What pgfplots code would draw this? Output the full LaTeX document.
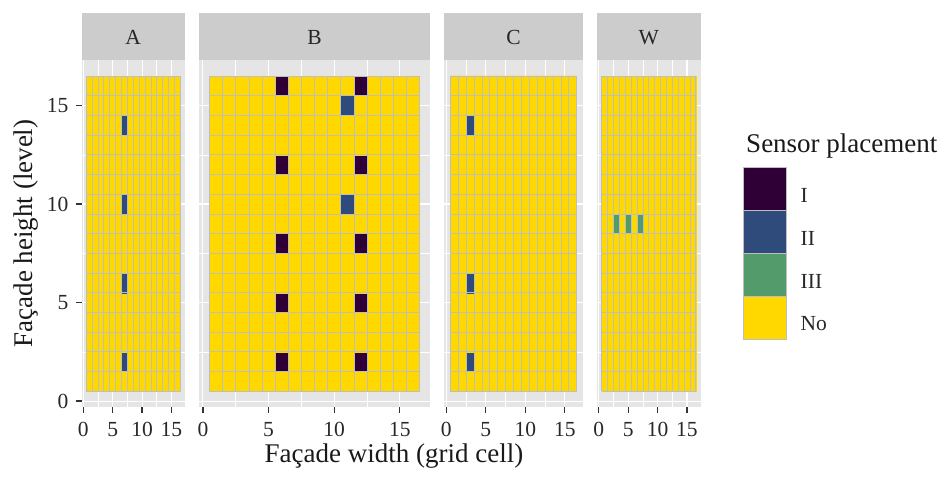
\documentclass[border=0pt]{standalone}
\usepackage{fontspec}
\setmainfont{Liberation Serif}
\usepackage{pgfplots}
\usepackage{pgfplotstable}
\pgfplotsset{compat=1.18}

\definecolor{panelbg}{RGB}{229,229,229}
\definecolor{stripbg}{RGB}{204,204,204}
\definecolor{tileedge}{RGB}{190,190,190}
\definecolor{catI}{RGB}{46,0,54}
\definecolor{catII}{RGB}{47,75,124}
\definecolor{catIII}{RGB}{83,155,107}
\definecolor{catNo}{RGB}{255,216,0}
\definecolor{tickgray}{RGB}{51,51,51}
\definecolor{labgray}{RGB}{40,40,40}

\newcommand\smallfont{\fontsize{21.5}{24}\selectfont}
\newcommand\bigfont{\fontsize{27}{30}\selectfont}

% Sensor placement per grid cell: 0 = I, 1 = II, 2 = III, 3 = No.
% One line per level, level 1 (bottom) first; 16 cells per level, cell 1 first.
\pgfplotstableread[row sep=\\]{
c\\
3\\3\\3\\3\\3\\3\\3\\3\\3\\3\\3\\3\\3\\3\\3\\3\\
3\\3\\3\\3\\3\\3\\1\\3\\3\\3\\3\\3\\3\\3\\3\\3\\
3\\3\\3\\3\\3\\3\\3\\3\\3\\3\\3\\3\\3\\3\\3\\3\\
3\\3\\3\\3\\3\\3\\3\\3\\3\\3\\3\\3\\3\\3\\3\\3\\
3\\3\\3\\3\\3\\3\\3\\3\\3\\3\\3\\3\\3\\3\\3\\3\\
3\\3\\3\\3\\3\\3\\1\\3\\3\\3\\3\\3\\3\\3\\3\\3\\
3\\3\\3\\3\\3\\3\\3\\3\\3\\3\\3\\3\\3\\3\\3\\3\\
3\\3\\3\\3\\3\\3\\3\\3\\3\\3\\3\\3\\3\\3\\3\\3\\
3\\3\\3\\3\\3\\3\\3\\3\\3\\3\\3\\3\\3\\3\\3\\3\\
3\\3\\3\\3\\3\\3\\1\\3\\3\\3\\3\\3\\3\\3\\3\\3\\
3\\3\\3\\3\\3\\3\\3\\3\\3\\3\\3\\3\\3\\3\\3\\3\\
3\\3\\3\\3\\3\\3\\3\\3\\3\\3\\3\\3\\3\\3\\3\\3\\
3\\3\\3\\3\\3\\3\\3\\3\\3\\3\\3\\3\\3\\3\\3\\3\\
3\\3\\3\\3\\3\\3\\1\\3\\3\\3\\3\\3\\3\\3\\3\\3\\
3\\3\\3\\3\\3\\3\\3\\3\\3\\3\\3\\3\\3\\3\\3\\3\\
3\\3\\3\\3\\3\\3\\3\\3\\3\\3\\3\\3\\3\\3\\3\\3\\
}\facadeA

\pgfplotstableread[row sep=\\]{
c\\
3\\3\\3\\3\\3\\3\\3\\3\\3\\3\\3\\3\\3\\3\\3\\3\\
3\\3\\3\\3\\3\\0\\3\\3\\3\\3\\3\\0\\3\\3\\3\\3\\
3\\3\\3\\3\\3\\3\\3\\3\\3\\3\\3\\3\\3\\3\\3\\3\\
3\\3\\3\\3\\3\\3\\3\\3\\3\\3\\3\\3\\3\\3\\3\\3\\
3\\3\\3\\3\\3\\0\\3\\3\\3\\3\\3\\0\\3\\3\\3\\3\\
3\\3\\3\\3\\3\\3\\3\\3\\3\\3\\3\\3\\3\\3\\3\\3\\
3\\3\\3\\3\\3\\3\\3\\3\\3\\3\\3\\3\\3\\3\\3\\3\\
3\\3\\3\\3\\3\\0\\3\\3\\3\\3\\3\\0\\3\\3\\3\\3\\
3\\3\\3\\3\\3\\3\\3\\3\\3\\3\\3\\3\\3\\3\\3\\3\\
3\\3\\3\\3\\3\\3\\3\\3\\3\\3\\1\\3\\3\\3\\3\\3\\
3\\3\\3\\3\\3\\3\\3\\3\\3\\3\\3\\3\\3\\3\\3\\3\\
3\\3\\3\\3\\3\\0\\3\\3\\3\\3\\3\\0\\3\\3\\3\\3\\
3\\3\\3\\3\\3\\3\\3\\3\\3\\3\\3\\3\\3\\3\\3\\3\\
3\\3\\3\\3\\3\\3\\3\\3\\3\\3\\3\\3\\3\\3\\3\\3\\
3\\3\\3\\3\\3\\3\\3\\3\\3\\3\\1\\3\\3\\3\\3\\3\\
3\\3\\3\\3\\3\\0\\3\\3\\3\\3\\3\\0\\3\\3\\3\\3\\
}\facadeB

\pgfplotstableread[row sep=\\]{
c\\
3\\3\\3\\3\\3\\3\\3\\3\\3\\3\\3\\3\\3\\3\\3\\3\\
3\\3\\1\\3\\3\\3\\3\\3\\3\\3\\3\\3\\3\\3\\3\\3\\
3\\3\\3\\3\\3\\3\\3\\3\\3\\3\\3\\3\\3\\3\\3\\3\\
3\\3\\3\\3\\3\\3\\3\\3\\3\\3\\3\\3\\3\\3\\3\\3\\
3\\3\\3\\3\\3\\3\\3\\3\\3\\3\\3\\3\\3\\3\\3\\3\\
3\\3\\1\\3\\3\\3\\3\\3\\3\\3\\3\\3\\3\\3\\3\\3\\
3\\3\\3\\3\\3\\3\\3\\3\\3\\3\\3\\3\\3\\3\\3\\3\\
3\\3\\3\\3\\3\\3\\3\\3\\3\\3\\3\\3\\3\\3\\3\\3\\
3\\3\\3\\3\\3\\3\\3\\3\\3\\3\\3\\3\\3\\3\\3\\3\\
3\\3\\3\\3\\3\\3\\3\\3\\3\\3\\3\\3\\3\\3\\3\\3\\
3\\3\\3\\3\\3\\3\\3\\3\\3\\3\\3\\3\\3\\3\\3\\3\\
3\\3\\3\\3\\3\\3\\3\\3\\3\\3\\3\\3\\3\\3\\3\\3\\
3\\3\\3\\3\\3\\3\\3\\3\\3\\3\\3\\3\\3\\3\\3\\3\\
3\\3\\1\\3\\3\\3\\3\\3\\3\\3\\3\\3\\3\\3\\3\\3\\
3\\3\\3\\3\\3\\3\\3\\3\\3\\3\\3\\3\\3\\3\\3\\3\\
3\\3\\3\\3\\3\\3\\3\\3\\3\\3\\3\\3\\3\\3\\3\\3\\
}\facadeC

\pgfplotstableread[row sep=\\]{
c\\
3\\3\\3\\3\\3\\3\\3\\3\\3\\3\\3\\3\\3\\3\\3\\3\\
3\\3\\3\\3\\3\\3\\3\\3\\3\\3\\3\\3\\3\\3\\3\\3\\
3\\3\\3\\3\\3\\3\\3\\3\\3\\3\\3\\3\\3\\3\\3\\3\\
3\\3\\3\\3\\3\\3\\3\\3\\3\\3\\3\\3\\3\\3\\3\\3\\
3\\3\\3\\3\\3\\3\\3\\3\\3\\3\\3\\3\\3\\3\\3\\3\\
3\\3\\3\\3\\3\\3\\3\\3\\3\\3\\3\\3\\3\\3\\3\\3\\
3\\3\\3\\3\\3\\3\\3\\3\\3\\3\\3\\3\\3\\3\\3\\3\\
3\\3\\3\\3\\3\\3\\3\\3\\3\\3\\3\\3\\3\\3\\3\\3\\
3\\3\\2\\3\\2\\3\\2\\3\\3\\3\\3\\3\\3\\3\\3\\3\\
3\\3\\3\\3\\3\\3\\3\\3\\3\\3\\3\\3\\3\\3\\3\\3\\
3\\3\\3\\3\\3\\3\\3\\3\\3\\3\\3\\3\\3\\3\\3\\3\\
3\\3\\3\\3\\3\\3\\3\\3\\3\\3\\3\\3\\3\\3\\3\\3\\
3\\3\\3\\3\\3\\3\\3\\3\\3\\3\\3\\3\\3\\3\\3\\3\\
3\\3\\3\\3\\3\\3\\3\\3\\3\\3\\3\\3\\3\\3\\3\\3\\
3\\3\\3\\3\\3\\3\\3\\3\\3\\3\\3\\3\\3\\3\\3\\3\\
3\\3\\3\\3\\3\\3\\3\\3\\3\\3\\3\\3\\3\\3\\3\\3\\
}\facadeW

\pgfplotsset{
  facet/.style={
    scale only axis, height=346.8pt,
    anchor=south west,
    xmin=-0.3, xmax=17.3, ymin=-0.3, ymax=17.3,
    xtick={0,5,10,15}, ytick={0,5,10,15},
    minor xtick={2.5,7.5,12.5}, minor ytick={2.5,7.5,12.5},
    grid=both,
    major grid style={white, line width=1.1pt},
    minor grid style={white, line width=0.55pt},
    axis line style={draw=none},
    tick pos=left, tick align=outside,
    major tick length=5.8pt, minor tick length=0pt,
    major tick style={tickgray, line width=1.2pt},
    minor tick style={draw=none},
    axis background/.style={fill=panelbg},
    /pgf/number format/assume math mode=true,
    ticklabel style={font=\smallfont, text=labgray},
    xticklabel style={inner sep=0pt, yshift=-9.5pt},
    yticklabel style={inner sep=0pt, xshift=-7.2pt},
    colormap={sensor}{rgb255=(46,0,54) rgb255=(47,75,124) rgb255=(83,155,107) rgb255=(255,216,0)},
    colormap access=direct,
    clip=false,
  },
  noylabels/.style={yticklabels={}, major y tick style={draw=none}},
  tiles/.style={matrix plot*, mesh/cols=16, point meta=explicit, draw=none, forget plot},
  % cell k of the table (row-major, 16 per level) sits at column mod(k,16)+1, level floor(k/16)+1
  table/cells/.style={x index=0, y index=0,
    x expr={mod(\coordindex,16)+1}, y expr={floor(\coordindex/16)+1}, meta index=0},
}

% thin outlines between the 16 x 16 cells
\newcommand\celledges{%
  \pgfplotsinvokeforeach{0.5,1.5,2.5,3.5,4.5,5.5,6.5,7.5,8.5,9.5,10.5,11.5,12.5,13.5,14.5,15.5,16.5}{%
    \draw[tileedge, line width=0.7pt] (axis cs:##1,0.5) -- (axis cs:##1,16.5);
    \draw[tileedge, line width=0.7pt] (axis cs:0.5,##1) -- (axis cs:16.5,##1);
  }%
}

% strip label above a facet
\newcommand\facetstrip[1]{%
  \fill[stripbg] (rel axis cs:0,1) rectangle ([yshift=46.9pt]rel axis cs:1,1);
  \node[font=\smallfont, text=black!85] at ([yshift=22.5pt]rel axis cs:0.5,1) {#1};
}

\begin{document}
\begin{tikzpicture}
\useasboundingbox (0,0) rectangle (940pt,477pt);

\begin{axis}[facet, at={(81.5pt,70pt)}, width=103.5pt]
  \addplot[tiles] table[cells] {\facadeA};
  \celledges
  \facetstrip{A}
\end{axis}

\begin{axis}[facet, noylabels, at={(199pt,70pt)}, width=231pt]
  \addplot[tiles] table[cells] {\facadeB};
  \celledges
  \facetstrip{B}
\end{axis}

\begin{axis}[facet, noylabels, at={(444pt,70pt)}, width=139pt]
  \addplot[tiles] table[cells] {\facadeC};
  \celledges
  \facetstrip{C}
\end{axis}

\begin{axis}[facet, noylabels, at={(597pt,70pt)}, width=103.5pt,
  legend style={at={(1.4077,0.6912)}, anchor=north west, draw=none, fill=none,
    inner sep=0pt, row sep=-0.8pt, column sep=14pt, font=\smallfont,
    text=labgray, nodes={inner sep=0pt}},
  legend cell align=left]
  \addplot[tiles] table[cells] {\facadeW};
  \celledges
  \facetstrip{W}
  \addlegendimage{legend image code/.code={\fill[catI, draw=tileedge, line width=0.8pt] (0pt,-14.5pt) rectangle (43pt,28.3pt);}}
  \addlegendentry{I}
  \addlegendimage{legend image code/.code={\fill[catII, draw=tileedge, line width=0.8pt] (0pt,-14.5pt) rectangle (43pt,28.3pt);}}
  \addlegendentry{II}
  \addlegendimage{legend image code/.code={\fill[catIII, draw=tileedge, line width=0.8pt] (0pt,-14.5pt) rectangle (43pt,28.3pt);}}
  \addlegendentry{III}
  \addlegendimage{legend image code/.code={\fill[catNo, draw=tileedge, line width=0.8pt] (0pt,-14.5pt) rectangle (43pt,28.3pt);}}
  \addlegendentry{No}
\end{axis}

\node[anchor=base west, font=\bigfont, text=black!90] at (742.7pt,324.5pt) {Sensor placement};
\node[anchor=base, rotate=90, font=\bigfont, text=black!90] at (32pt,243.5pt) {Façade height (level)};
\node[anchor=base, font=\bigfont, text=black!90] at (394pt,14.3pt) {Façade width (grid cell)};
\end{tikzpicture}
\end{document}
